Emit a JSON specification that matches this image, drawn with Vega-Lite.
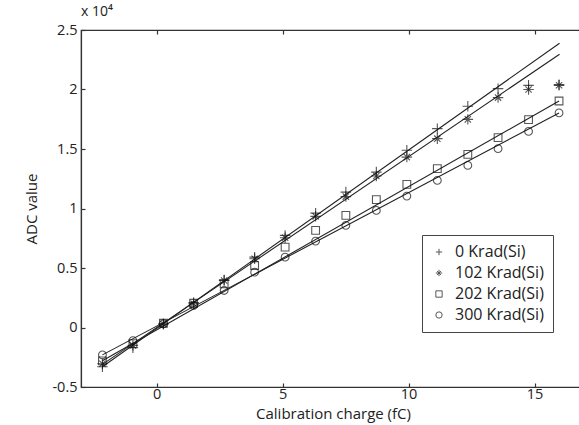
{
  "$schema": "https://vega.github.io/schema/vega-lite/v6.json",
  "width": 504,
  "height": 357,
  "autosize": {"type": "none"},
  "padding": {"left": 81, "top": 30, "right": 0, "bottom": 38},
  "background": "white",
  "title": {"text": "x 10⁴", "anchor": "start", "frame": "group", "offset": 3, "fontSize": 14, "fontWeight": "normal", "font": "Open Sans", "color": "#222"},
  "config": {
    "view": {"stroke": "#333", "strokeWidth": 1.2},
    "font": "Open Sans",
    "axis": {"grid": false, "domainColor": "#333", "tickColor": "#333", "labelColor": "#222", "titleColor": "#222", "labelFont": "Open Sans", "titleFont": "Open Sans", "labelFontSize": 14.5, "titleFontSize": 15, "titleFontWeight": "normal", "tickSize": -4, "domainWidth": 1.2, "tickWidth": 1.2}
  },
  "datasets": {
    "points": [
      {"charge": -2.15, "adc": -3300, "dose": "0 Krad(Si)"},
      {"charge": -0.94, "adc": -1700, "dose": "0 Krad(Si)"},
      {"charge": 0.27, "adc": 300, "dose": "0 Krad(Si)"},
      {"charge": 1.47, "adc": 2100, "dose": "0 Krad(Si)"},
      {"charge": 2.68, "adc": 4000, "dose": "0 Krad(Si)"},
      {"charge": 3.89, "adc": 5910, "dose": "0 Krad(Si)"},
      {"charge": 5.10, "adc": 7740, "dose": "0 Krad(Si)"},
      {"charge": 6.31, "adc": 9610, "dose": "0 Krad(Si)"},
      {"charge": 7.51, "adc": 11380, "dose": "0 Krad(Si)"},
      {"charge": 8.72, "adc": 13060, "dose": "0 Krad(Si)"},
      {"charge": 9.93, "adc": 14890, "dose": "0 Krad(Si)"},
      {"charge": 11.14, "adc": 16710, "dose": "0 Krad(Si)"},
      {"charge": 12.35, "adc": 18590, "dose": "0 Krad(Si)"},
      {"charge": 13.55, "adc": 20070, "dose": "0 Krad(Si)"},
      {"charge": 14.76, "adc": 20350, "dose": "0 Krad(Si)"},
      {"charge": 15.97, "adc": 20410, "dose": "0 Krad(Si)"},
      {"charge": -2.15, "adc": -3050, "dose": "102 Krad(Si)"},
      {"charge": -0.94, "adc": -1500, "dose": "102 Krad(Si)"},
      {"charge": 0.27, "adc": 300, "dose": "102 Krad(Si)"},
      {"charge": 1.47, "adc": 2000, "dose": "102 Krad(Si)"},
      {"charge": 2.68, "adc": 3950, "dose": "102 Krad(Si)"},
      {"charge": 3.89, "adc": 5780, "dose": "102 Krad(Si)"},
      {"charge": 5.10, "adc": 7540, "dose": "102 Krad(Si)"},
      {"charge": 6.31, "adc": 9340, "dose": "102 Krad(Si)"},
      {"charge": 7.51, "adc": 11000, "dose": "102 Krad(Si)"},
      {"charge": 8.72, "adc": 12730, "dose": "102 Krad(Si)"},
      {"charge": 9.93, "adc": 14320, "dose": "102 Krad(Si)"},
      {"charge": 11.14, "adc": 15870, "dose": "102 Krad(Si)"},
      {"charge": 12.35, "adc": 17490, "dose": "102 Krad(Si)"},
      {"charge": 13.55, "adc": 19320, "dose": "102 Krad(Si)"},
      {"charge": 14.76, "adc": 20000, "dose": "102 Krad(Si)"},
      {"charge": 15.97, "adc": 20350, "dose": "102 Krad(Si)"},
      {"charge": -2.15, "adc": -2800, "dose": "202 Krad(Si)"},
      {"charge": -0.94, "adc": -1350, "dose": "202 Krad(Si)"},
      {"charge": 0.27, "adc": 360, "dose": "202 Krad(Si)"},
      {"charge": 1.47, "adc": 2040, "dose": "202 Krad(Si)"},
      {"charge": 2.68, "adc": 3670, "dose": "202 Krad(Si)"},
      {"charge": 3.89, "adc": 5210, "dose": "202 Krad(Si)"},
      {"charge": 5.10, "adc": 6750, "dose": "202 Krad(Si)"},
      {"charge": 6.31, "adc": 8160, "dose": "202 Krad(Si)"},
      {"charge": 7.51, "adc": 9420, "dose": "202 Krad(Si)"},
      {"charge": 8.72, "adc": 10740, "dose": "202 Krad(Si)"},
      {"charge": 9.93, "adc": 12030, "dose": "202 Krad(Si)"},
      {"charge": 11.14, "adc": 13350, "dose": "202 Krad(Si)"},
      {"charge": 12.35, "adc": 14550, "dose": "202 Krad(Si)"},
      {"charge": 13.55, "adc": 15950, "dose": "202 Krad(Si)"},
      {"charge": 14.76, "adc": 17470, "dose": "202 Krad(Si)"},
      {"charge": 15.97, "adc": 19030, "dose": "202 Krad(Si)"},
      {"charge": -2.15, "adc": -2300, "dose": "300 Krad(Si)"},
      {"charge": -0.94, "adc": -1100, "dose": "300 Krad(Si)"},
      {"charge": 0.27, "adc": 300, "dose": "300 Krad(Si)"},
      {"charge": 1.47, "adc": 1850, "dose": "300 Krad(Si)"},
      {"charge": 2.68, "adc": 3110, "dose": "300 Krad(Si)"},
      {"charge": 3.89, "adc": 4650, "dose": "300 Krad(Si)"},
      {"charge": 5.10, "adc": 5910, "dose": "300 Krad(Si)"},
      {"charge": 6.31, "adc": 7260, "dose": "300 Krad(Si)"},
      {"charge": 7.51, "adc": 8580, "dose": "300 Krad(Si)"},
      {"charge": 8.72, "adc": 9840, "dose": "300 Krad(Si)"},
      {"charge": 9.93, "adc": 11040, "dose": "300 Krad(Si)"},
      {"charge": 11.14, "adc": 12360, "dose": "300 Krad(Si)"},
      {"charge": 12.35, "adc": 13620, "dose": "300 Krad(Si)"},
      {"charge": 13.55, "adc": 15030, "dose": "300 Krad(Si)"},
      {"charge": 14.76, "adc": 16480, "dose": "300 Krad(Si)"},
      {"charge": 15.97, "adc": 18030, "dose": "300 Krad(Si)"}
    ],
    "fits": [
      {"charge": -2.15, "adc": -3300, "dose": "0 Krad(Si)"},
      {"charge": 15.99, "adc": 23890, "dose": "0 Krad(Si)"},
      {"charge": -2.15, "adc": -3100, "dose": "102 Krad(Si)"},
      {"charge": 15.99, "adc": 22960, "dose": "102 Krad(Si)"},
      {"charge": -2.15, "adc": -2800, "dose": "202 Krad(Si)"},
      {"charge": 15.97, "adc": 19030, "dose": "202 Krad(Si)"},
      {"charge": -2.15, "adc": -2300, "dose": "300 Krad(Si)"},
      {"charge": 15.97, "adc": 18030, "dose": "300 Krad(Si)"}
    ]
  },
  "resolve": {"axis": {"x": "independent"}},
  "layer": [
    {
      "data": {"name": "fits"},
      "mark": {"type": "line", "color": "#222", "strokeWidth": 1.1},
      "encoding": {
        "x": {"field": "charge", "type": "quantitative", "scale": {"domain": [-3, 17], "nice": false, "zero": false},
              "axis": {"orient": "bottom", "values": [0, 5, 10, 15], "title": "Calibration charge (fC)", "labelPadding": 4, "titlePadding": 6}},
        "y": {"field": "adc", "type": "quantitative", "scale": {"domain": [-5000, 25000], "nice": false, "zero": false},
              "axis": {"values": [-5000, 0, 5000, 10000, 15000, 20000, 25000], "labelExpr": "'' + (datum.value / 10000)", "title": "ADC value", "labelPadding": 8, "titlePadding": 12}},
        "detail": {"field": "dose", "type": "nominal"}
      }
    },
    {
      "data": {"name": "points"},
      "mark": {"type": "point", "filled": false, "stroke": "#111", "strokeWidth": 1.1, "size": 70},
      "encoding": {
        "x": {"field": "charge", "type": "quantitative",
              "axis": {"orient": "top", "values": [0, 5, 10, 15], "labels": false, "domain": false, "title": null}},
        "y": {"field": "adc", "type": "quantitative"},
        "shape": {"field": "dose", "type": "nominal",
          "scale": {"domain": ["0 Krad(Si)", "102 Krad(Si)", "202 Krad(Si)", "300 Krad(Si)"],
                    "range": ["M-1,0L1,0M0,-1L0,1", "M-1,0L1,0M0,-1L0,1M-0.6,-0.6L0.6,0.6M-0.6,0.6L0.6,-0.6", "square", "circle"]},
          "legend": {"orient": "none", "legendX": 341, "legendY": 205, "title": null, "strokeColor": "#444", "fillColor": "white", "padding": 9, "symbolSize": 40, "symbolStrokeColor": "#111", "symbolStrokeWidth": 1, "symbolFillColor": "transparent", "labelFontSize": 16, "labelFont": "Open Sans", "labelColor": "#222", "labelOffset": 8, "rowPadding": 5, "labelExpr": "datum.label + '       '"}
        },
        "size": {"condition": {"test": "datum.dose == '0 Krad(Si)' || datum.dose == '102 Krad(Si)'", "value": 110}, "value": 60}
      }
    }
  ]
}
